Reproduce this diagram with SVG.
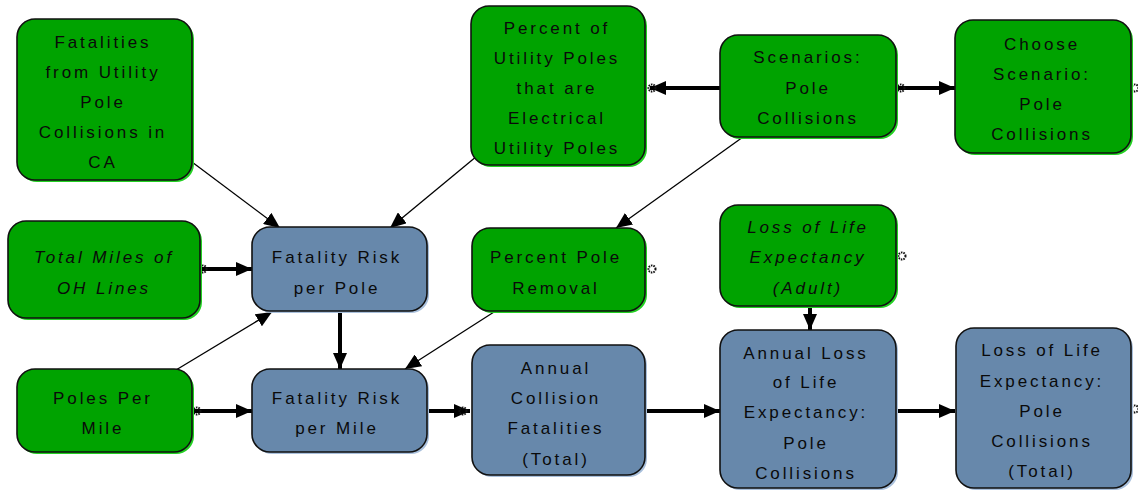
<svg xmlns="http://www.w3.org/2000/svg" width="1138" height="491" viewBox="0 0 1138 491">
<style>
  .g rect.b { fill: #00A300; stroke: #111; stroke-width: 1.6; }
  .g rect.s { fill: #22D022; }
  .u rect.b { fill: #6788AB; stroke: #111; stroke-width: 1.6; }
  .u rect.s { fill: #A9C0DC; }
  text { font-family: "Liberation Sans", Arial, sans-serif; font-size: 17px; letter-spacing: 2.9px; fill: #0a0a0a; text-anchor: middle; }
  text.i { font-style: italic; }
  .thick { stroke: #000; stroke-width: 4; fill: none; marker-end: url(#ah); }
  .thin { stroke: #000; stroke-width: 1.3; fill: none; marker-end: url(#ah); }
  .dot { fill: none; stroke: #111; stroke-width: 2; stroke-dasharray: 1.5 1; }
</style>
<defs>
  <marker id="ah" markerUnits="userSpaceOnUse" markerWidth="17" markerHeight="14" refX="16" refY="7" orient="auto">
    <path d="M0,0 L16,7 L0,14 z" fill="#000"/>
  </marker>
</defs>
<rect width="1138" height="491" fill="#fff"/>

<g id="connectors">
  <path class="thick" d="M200,269 L252,269"/>
  <path class="thick" d="M192,411 L252,411"/>
  <path class="thick" d="M340,311 L340,369"/>
  <path class="thick" d="M427,411 L470,411"/>
  <path class="thick" d="M720,88 L650,88"/>
  <path class="thick" d="M896,88 L955,88"/>
  <path class="thick" d="M810,306 L810,330"/>
  <path class="thick" d="M645,411 L720,411"/>
  <path class="thick" d="M896,411 L955,411"/>
  <path class="thin" d="M192,162 L280,228"/>
  <path class="thin" d="M477,156 L390,228"/>
  <path class="thin" d="M176,370 L272,312"/>
  <path class="thin" d="M494,312 L405,369"/>
  <path class="thin" d="M743,137 L616,228"/>
  <circle class="dot" cx="203" cy="269" r="3.5"/>
  <circle class="dot" cx="197" cy="411" r="3.5"/>
  <circle class="dot" cx="463" cy="411" r="3.5"/>
  <circle class="dot" cx="652" cy="88" r="3.5"/>
  <circle class="dot" cx="901" cy="88" r="3.5"/>
  <circle class="dot" cx="1135" cy="88" r="3.5"/>
  <circle class="dot" cx="652" cy="269" r="3.5"/>
  <circle class="dot" cx="902" cy="256" r="3.5"/>
  <circle class="dot" cx="1135" cy="409" r="3.5"/>
</g>

<g id="n_fatalities" class="g">
  <rect class="s" x="19" y="21" width="175" height="161" rx="18"/>
  <rect class="b" x="17" y="19" width="175" height="161" rx="18"/>
  <text x="103" y="48">Fatalities</text>
  <text x="103" y="78">from Utility</text>
  <text x="103" y="108">Pole</text>
  <text x="103" y="138">Collisions in</text>
  <text x="103" y="168">CA</text>
</g>

<g id="n_totalmiles" class="g">
  <rect class="s" x="10" y="223" width="192" height="97" rx="18"/>
  <rect class="b" x="8" y="221" width="192" height="97" rx="18"/>
  <text class="i" x="104" y="263">Total Miles of</text>
  <text class="i" x="104" y="294">OH Lines</text>
</g>

<g id="n_polespermile" class="g">
  <rect class="s" x="19" y="371" width="175" height="83" rx="18"/>
  <rect class="b" x="17" y="369" width="175" height="83" rx="18"/>
  <text x="103" y="404">Poles Per</text>
  <text x="103" y="434">Mile</text>
</g>

<g id="n_riskpole" class="u">
  <rect class="s" x="254" y="229" width="175" height="84" rx="18"/>
  <rect class="b" x="252" y="227" width="175" height="84" rx="18"/>
  <text x="337" y="263">Fatality Risk</text>
  <text x="337" y="294">per Pole</text>
</g>

<g id="n_riskmile" class="u">
  <rect class="s" x="254" y="371" width="175" height="83" rx="18"/>
  <rect class="b" x="252" y="369" width="175" height="83" rx="18"/>
  <text x="337" y="404">Fatality Risk</text>
  <text x="337" y="434">per Mile</text>
</g>

<g id="n_percentutility" class="g">
  <rect class="s" x="473" y="8" width="174" height="159" rx="18"/>
  <rect class="b" x="471" y="6" width="174" height="159" rx="18"/>
  <text x="557" y="34">Percent of</text>
  <text x="557" y="64">Utility Poles</text>
  <text x="557" y="94">that are</text>
  <text x="557" y="124">Electrical</text>
  <text x="557" y="154">Utility Poles</text>
</g>

<g id="n_scenarios" class="g">
  <rect class="s" x="722" y="37" width="176" height="102" rx="18"/>
  <rect class="b" x="720" y="35" width="176" height="102" rx="18"/>
  <text x="808" y="63">Scenarios:</text>
  <text x="808" y="94">Pole</text>
  <text x="808" y="124">Collisions</text>
</g>

<g id="n_choose" class="g">
  <rect class="s" x="957" y="22" width="176" height="133" rx="18"/>
  <rect class="b" x="955" y="20" width="176" height="133" rx="18"/>
  <text x="1042" y="50">Choose</text>
  <text x="1042" y="80">Scenario:</text>
  <text x="1042" y="110">Pole</text>
  <text x="1042" y="140">Collisions</text>
</g>

<g id="n_percentremoval" class="g">
  <rect class="s" x="474" y="230" width="173" height="83" rx="18"/>
  <rect class="b" x="472" y="228" width="173" height="83" rx="18"/>
  <text x="556" y="263">Percent Pole</text>
  <text x="556" y="294">Removal</text>
</g>

<g id="n_lossadult" class="g">
  <rect class="s" x="722" y="207" width="176" height="101" rx="18"/>
  <rect class="b" x="720" y="205" width="176" height="101" rx="18"/>
  <text class="i" x="808" y="233">Loss of Life</text>
  <text class="i" x="808" y="263">Expectancy</text>
  <text class="i" x="808" y="294">(Adult)</text>
</g>

<g id="n_annualfatal" class="u">
  <rect class="s" x="474" y="347" width="173" height="130" rx="18"/>
  <rect class="b" x="472" y="345" width="173" height="130" rx="18"/>
  <text x="556" y="374">Annual</text>
  <text x="556" y="404">Collision</text>
  <text x="556" y="434">Fatalities</text>
  <text x="556" y="465">(Total)</text>
</g>

<g id="n_annualloss" class="u">
  <rect class="s" x="722" y="332" width="176" height="158" rx="18"/>
  <rect class="b" x="720" y="330" width="176" height="158" rx="18"/>
  <text x="806" y="359">Annual Loss</text>
  <text x="806" y="388">of Life</text>
  <text x="806" y="418">Expectancy:</text>
  <text x="806" y="449">Pole</text>
  <text x="806" y="479">Collisions</text>
</g>

<g id="n_losstotal" class="u">
  <rect class="s" x="958" y="330" width="175" height="160" rx="18"/>
  <rect class="b" x="956" y="328" width="175" height="160" rx="18"/>
  <text x="1042" y="356">Loss of Life</text>
  <text x="1042" y="387">Expectancy:</text>
  <text x="1042" y="417">Pole</text>
  <text x="1042" y="447">Collisions</text>
  <text x="1042" y="477">(Total)</text>
</g>
</svg>
